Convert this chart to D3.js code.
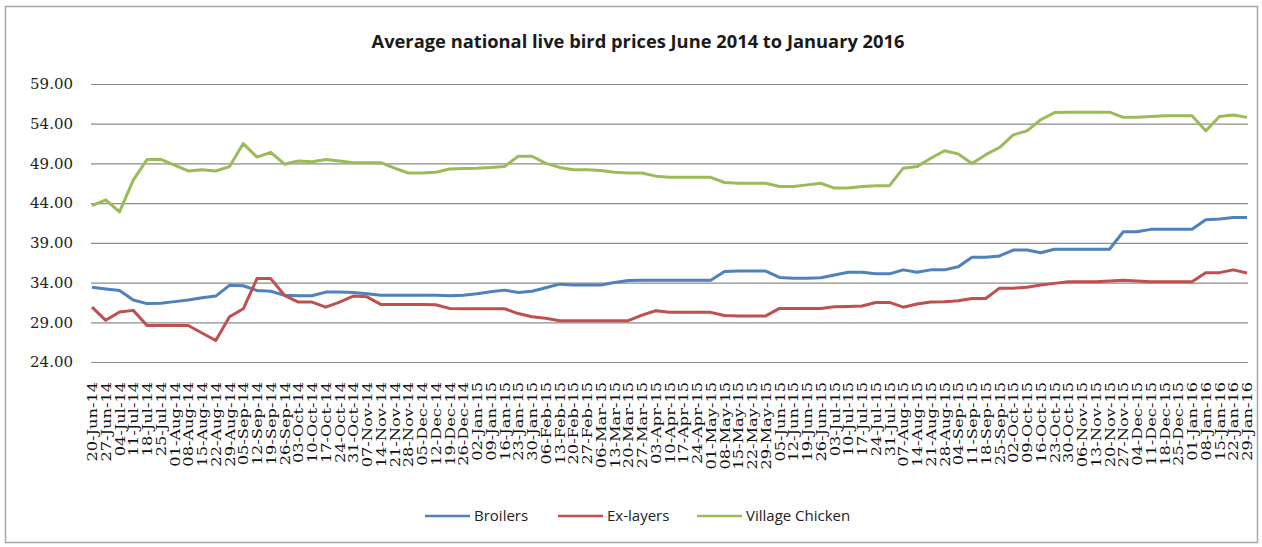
<!DOCTYPE html>
<html lang="en">
<head>
<meta charset="utf-8">
<title>Average national live bird prices</title>
<script src="https://cdn.jsdelivr.net/npm/d3@7"></script>
<style>
  body { margin: 0; background: #fff; }
</style>
</head>
<body>
<script>
  const weeks = [
    "20-Jun-14","27-Jun-14","04-Jul-14","11-Jul-14","18-Jul-14","25-Jul-14",
    "01-Aug-14","08-Aug-14","15-Aug-14","22-Aug-14","29-Aug-14",
    "05-Sep-14","12-Sep-14","19-Sep-14","26-Sep-14",
    "03-Oct-14","10-Oct-14","17-Oct-14","24-Oct-14","31-Oct-14",
    "07-Nov-14","14-Nov-14","21-Nov-14","28-Nov-14",
    "05-Dec-14","12-Dec-14","19-Dec-14","26-Dec-14",
    "02-Jan-15","09-Jan-15","16-Jan-15","23-Jan-15","30-Jan-15",
    "06-Feb-15","13-Feb-15","20-Feb-15","27-Feb-15",
    "06-Mar-15","13-Mar-15","20-Mar-15","27-Mar-15",
    "03-Apr-15","10-Apr-15","17-Apr-15","24-Apr-15",
    "01-May-15","08-May-15","15-May-15","22-May-15","29-May-15",
    "05-Jun-15","12-Jun-15","19-Jun-15","26-Jun-15",
    "03-Jul-15","10-Jul-15","17-Jul-15","24-Jul-15","31-Jul-15",
    "07-Aug-15","14-Aug-15","21-Aug-15","28-Aug-15",
    "04-Sep-15","11-Sep-15","18-Sep-15","25-Sep-15",
    "02-Oct-15","09-Oct-15","16-Oct-15","23-Oct-15","30-Oct-15",
    "06-Nov-15","13-Nov-15","20-Nov-15","27-Nov-15",
    "04-Dec-15","11-Dec-15","18-Dec-15","25-Dec-15",
    "01-Jan-16","08-Jan-16","15-Jan-16","22-Jan-16","29-Jan-16"
  ]

  const broilers = [
    33.4, 33.2, 33.0, 31.8, 31.35, 31.4, 31.6, 31.8, 32.1, 32.3,
    33.65, 33.6, 33.0, 32.9, 32.4, 32.35, 32.35, 32.8, 32.8, 32.75,
    32.6, 32.4, 32.4, 32.4, 32.4, 32.4, 32.35, 32.4, 32.6, 32.85,
    33.05, 32.75, 32.9, 33.35, 33.8, 33.7, 33.7, 33.7, 34.0, 34.25,
    34.3, 34.3, 34.3, 34.3, 34.3, 34.3, 35.4, 35.45, 35.45, 35.45,
    34.65, 34.55, 34.55, 34.6, 34.95, 35.3, 35.3, 35.1, 35.1, 35.6,
    35.3, 35.6, 35.6, 36.0, 37.2, 37.2, 37.35, 38.1, 38.1, 37.75,
    38.2, 38.2, 38.2, 38.2, 38.2, 40.4, 40.4, 40.7, 40.7, 40.7,
    40.7, 41.9, 42.0, 42.2, 42.2
  ]

  const exLayers = [
    30.9, 29.25, 30.3, 30.5, 28.6, 28.6, 28.6, 28.6, 27.65, 26.7,
    29.7, 30.7, 34.5, 34.5, 32.4, 31.55, 31.55, 30.9, 31.55, 32.3,
    32.2, 31.25, 31.25, 31.25, 31.25, 31.2, 30.75, 30.7, 30.7, 30.7,
    30.7, 30.1, 29.7, 29.5, 29.2, 29.2, 29.2, 29.2, 29.2, 29.2,
    29.9, 30.45, 30.25, 30.25, 30.25, 30.25, 29.85, 29.8, 29.8, 29.8,
    30.75, 30.75, 30.75, 30.75, 30.95, 31.0, 31.05, 31.5, 31.5, 30.9,
    31.3, 31.55, 31.6, 31.7, 32.0, 32.0, 33.3, 33.3, 33.4, 33.7,
    33.9, 34.1, 34.1, 34.1, 34.2, 34.3, 34.2, 34.1, 34.1, 34.1,
    34.1, 35.25, 35.25, 35.6, 35.2
  ]

  const villageChicken = [
    43.7, 44.4, 42.9, 46.9, 49.5, 49.5, 48.8, 48.05, 48.2, 48.05,
    48.6, 51.5, 49.8, 50.4, 48.9, 49.3, 49.2, 49.5, 49.3, 49.1,
    49.1, 49.1, 48.4, 47.8, 47.8, 47.9, 48.3, 48.35, 48.4, 48.5,
    48.6, 49.9, 49.9, 49.0, 48.5, 48.2, 48.2, 48.1, 47.9, 47.8,
    47.8, 47.4, 47.25, 47.25, 47.25, 47.25, 46.6, 46.5, 46.5, 46.5,
    46.1, 46.1, 46.3, 46.5, 45.9, 45.9, 46.1, 46.2, 46.2, 48.4,
    48.6, 49.65, 50.6, 50.2, 49.0, 50.1, 51.0, 52.6, 53.1, 54.5,
    55.4, 55.45, 55.45, 55.45, 55.45, 54.8, 54.8, 54.9, 55.0, 55.0,
    55.0, 53.1, 54.9, 55.1, 54.8
  ]

  const yTicks = [24, 29, 34, 39, 44, 49, 54, 59]

  const series = [
    { name: "Broilers", values: broilers, color: "#4f81bd" },
    { name: "Ex-layers", values: exLayers, color: "#c0504d" },
    { name: "Village Chicken", values: villageChicken, color: "#9bbb59" }
  ]

  const w = 1262, h = 547
  const plotL = 92, plotR = 1247, plotT = 84, plotB = 362

  const svg = d3.select("body").append("svg")
    .attr("width", w)
    .attr("height", h)

  // outer chart frame
  svg.append("rect")
    .attr("x", 5.5).attr("y", 6.5)
    .attr("width", 1252).attr("height", 536)
    .attr("fill", "#fff")
    .attr("stroke", "#a6a6a6")
    .attr("stroke-width", 1.5)

  const x = d3.scalePoint().domain(weeks).range([plotL, plotR])
  const y = d3.scaleLinear().domain([24, 59]).range([plotB, plotT])

  // title, stretched to the reference width
  svg.append("text")
    .attr("x", 638).attr("y", 48)
    .attr("text-anchor", "middle")
    .attr("font-family", "'Open Sans', sans-serif")
    .attr("font-weight", "bold")
    .attr("font-size", "18px")
    .attr("fill", "#1a1a1a")
    .attr("textLength", 533)
    .attr("lengthAdjust", "spacingAndGlyphs")
    .text("Average national live bird prices June 2014 to January 2016")

  // gridlines + y labels
  const yAxis = svg.append("g")
    .attr("transform", `translate(${plotL - 1},0)`)
    .call(d3.axisLeft(y).tickValues(yTicks).tickFormat(d3.format(".2f"))
      .tickSize(-(plotR - plotL + 2)).tickPadding(18))
  yAxis.select(".domain").remove()
  yAxis.selectAll(".tick line").attr("stroke", "#8c8c8c").attr("stroke-width", 1.2)
  yAxis.selectAll(".tick text")
    .attr("font-family", "'DejaVu Serif', serif")
    .attr("font-size", "15px")
    .attr("fill", "#222")

  // x labels, vertical, stretched along the reading direction
  const xAxis = svg.append("g")
    .attr("transform", `translate(0,${plotB})`)
    .call(d3.axisBottom(x).tickSize(0).tickPadding(0))
  xAxis.select(".domain").remove()
  xAxis.selectAll(".tick text")
    .attr("transform", "translate(0,20) rotate(-90) scale(1.2,1)")
    .attr("x", 0).attr("y", 0)
    .attr("dy", "0.35em")
    .attr("text-anchor", "end")
    .attr("font-family", "'DejaVu Serif', serif")
    .attr("font-size", "13.5px")
    .attr("fill", "#111")

  const line = d3.line()
    .x((d, i) => x(weeks[i]))
    .y(d => y(d))

  svg.selectAll("path.series")
    .data(series)
    .enter()
    .append("path")
    .attr("class", "series")
    .attr("d", d => line(d.values))
    .attr("fill", "none")
    .attr("stroke", d => d.color)
    .attr("stroke-width", 3)
    .attr("stroke-linejoin", "round")

  // legend
  const legendX = [425, 558, 697]
  const legend = svg.selectAll("g.legend")
    .data(series)
    .enter()
    .append("g")
    .attr("class", "legend")
    .attr("transform", (d, i) => `translate(${legendX[i]},516)`)
  legend.append("line")
    .attr("x1", 0).attr("x2", 45)
    .attr("stroke", d => d.color)
    .attr("stroke-width", 2.5)
  legend.append("text")
    .attr("x", 49).attr("dy", "0.35em")
    .attr("font-family", "'Open Sans', sans-serif")
    .attr("font-size", "15px")
    .attr("fill", "#222")
    .text(d => d.name)
</script>
</body>
</html>
